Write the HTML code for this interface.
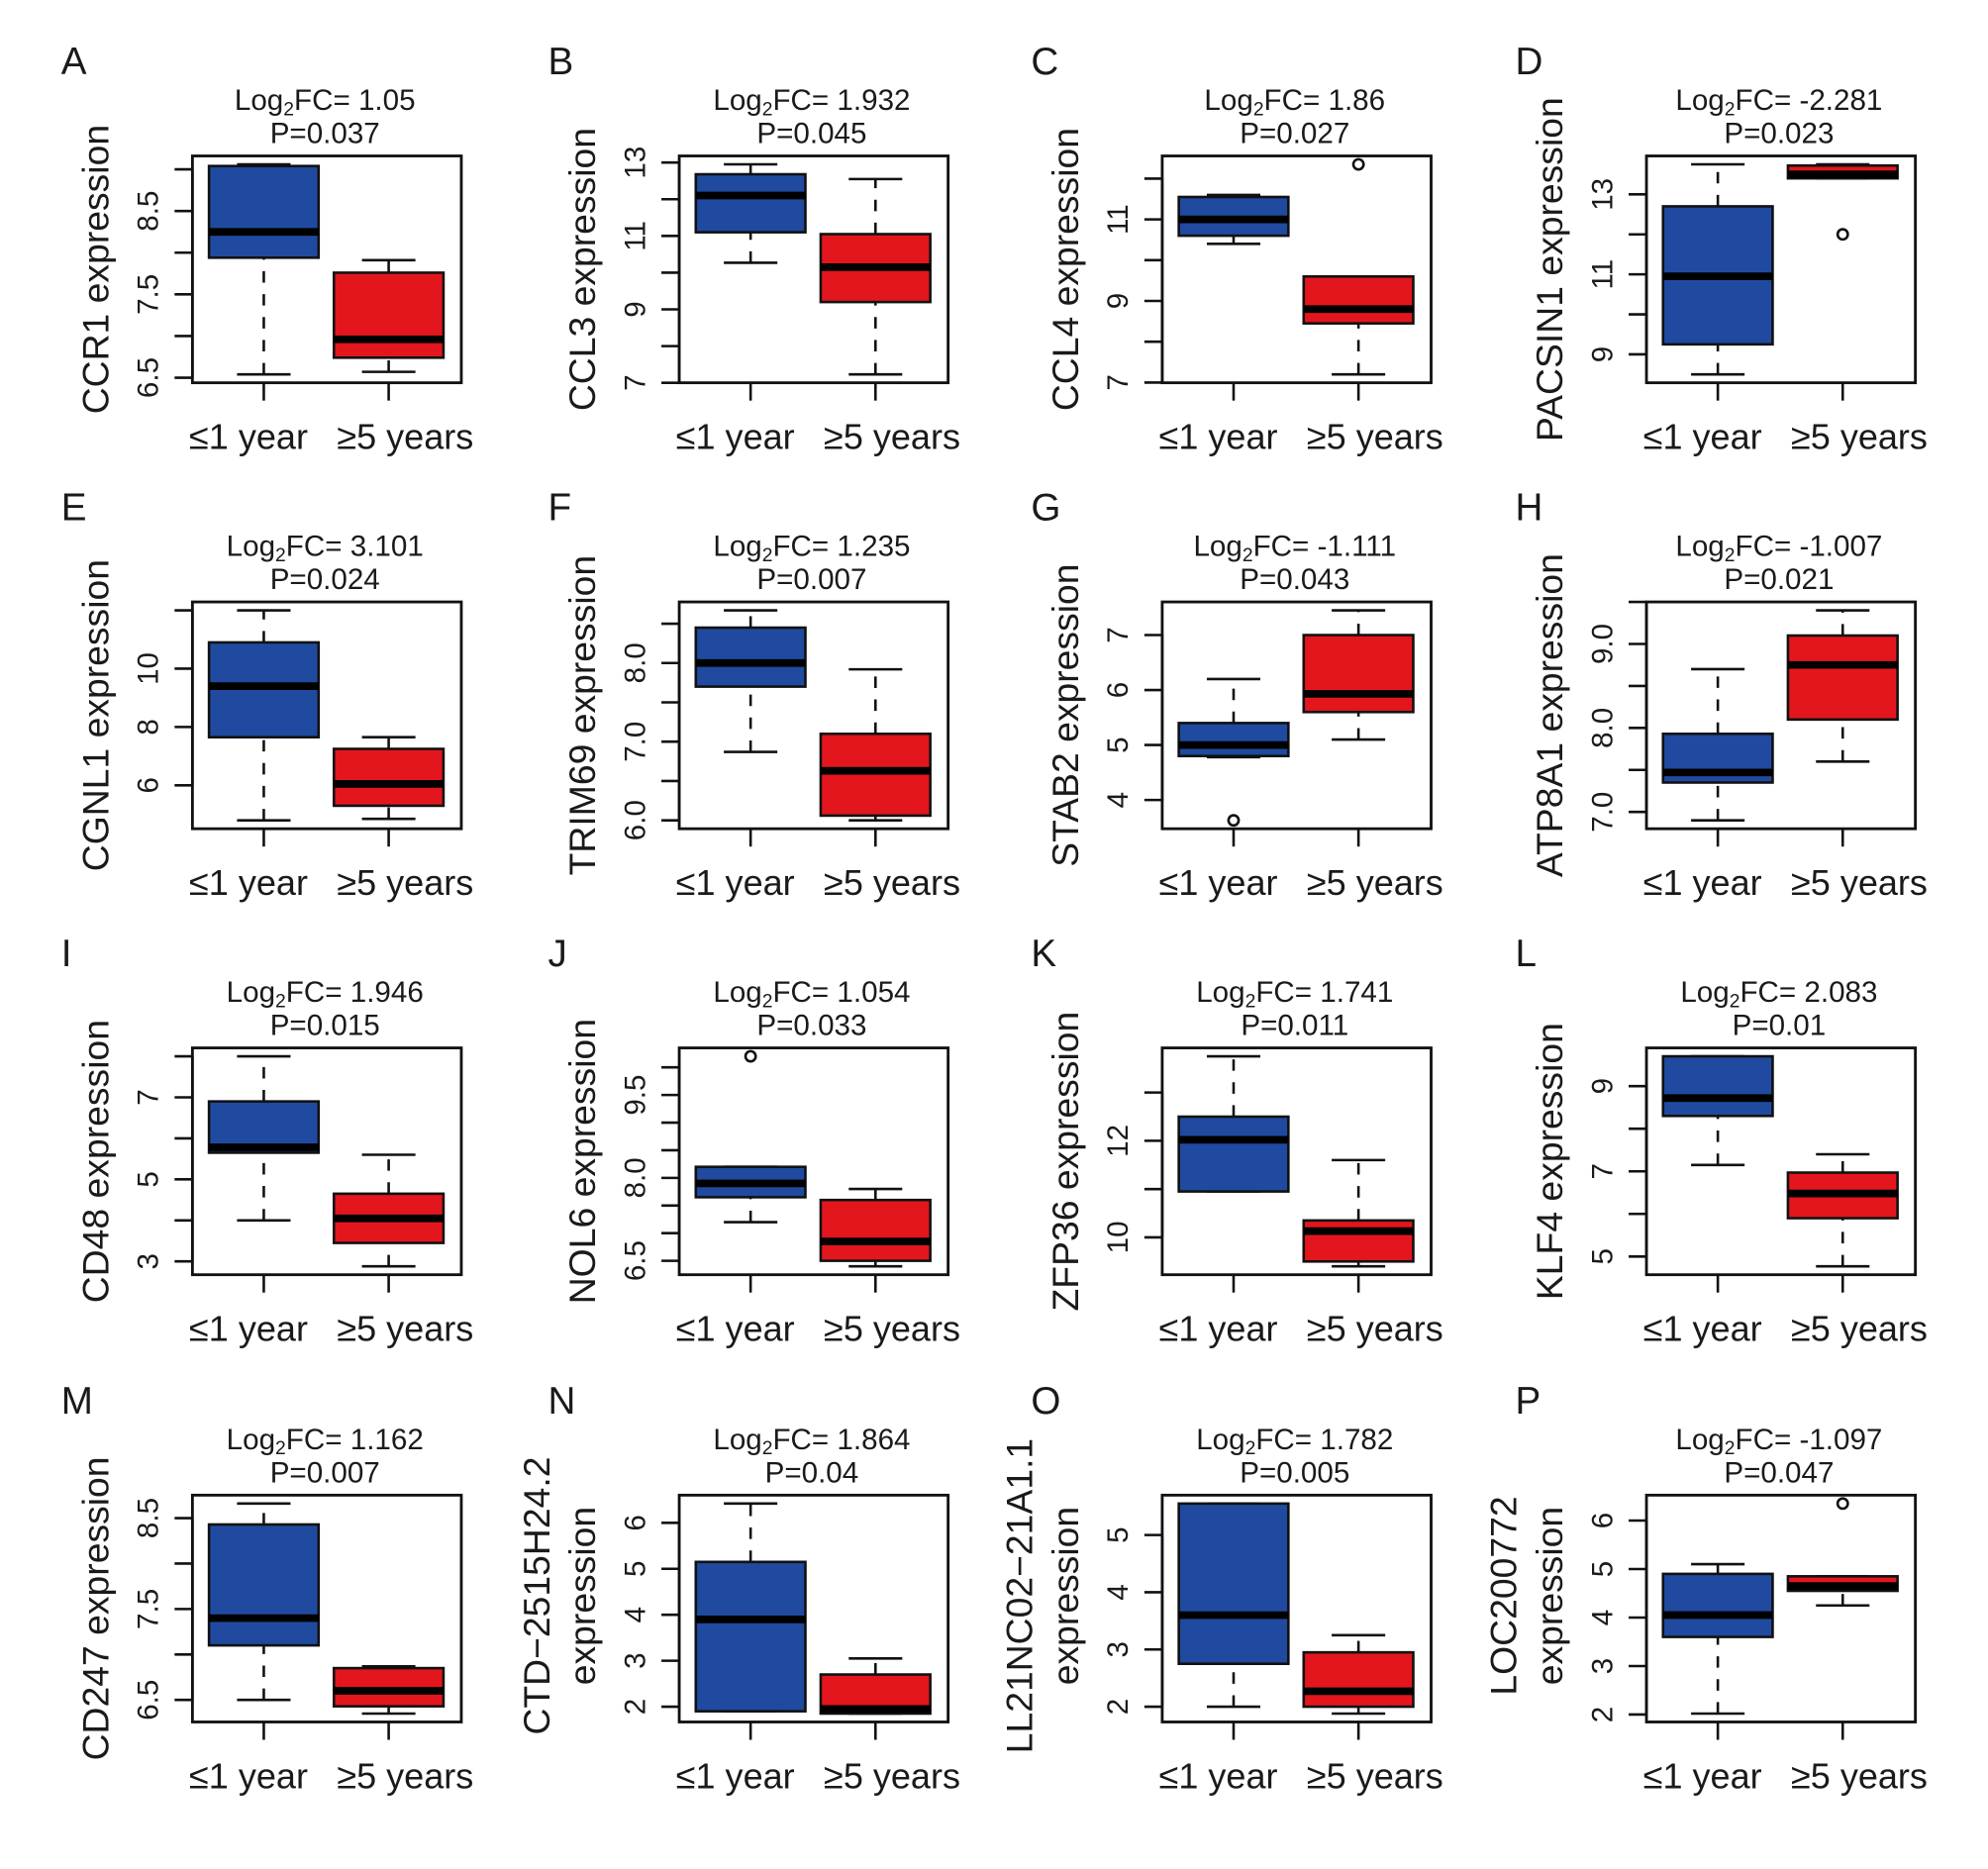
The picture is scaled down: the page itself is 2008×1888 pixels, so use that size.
<!DOCTYPE html>
<html><head><meta charset="utf-8"><style>
html,body{margin:0;padding:0;background:#fff;}
svg{display:block;}
text{font-family:"Liberation Sans Narrow","Liberation Sans",sans-serif;fill:#1a1a1a;}
</style></head><body>
<svg id="fig" width="2008" height="1888" viewBox="0 0 1560 1466" xmlns="http://www.w3.org/2000/svg"></svg>
<script>
// Panel data: [whiskerLow, q1, median, q3, whiskerHigh]
const letters = ["A","B","C","D","E","F","G","H","I","J","K","L","M","N","O","P"];
const genes = [["CCR1 expression"],["CCL3 expression"],["CCL4 expression"],["PACSIN1 expression"],
 ["CGNL1 expression"],["TRIM69 expression"],["STAB2 expression"],["ATP8A1 expression"],
 ["CD48 expression"],["NOL6 expression"],["ZFP36 expression"],["KLF4 expression"],
 ["CD247 expression"],["CTD\u22122515H24.2","expression"],["LL21NC02\u221221A1.1","expression"],["LOC200772","expression"]];
const log2fc = ["1.05","1.932","1.86","-2.281","3.101","1.235","-1.111","-1.007","1.946","1.054","1.741","2.083","1.162","1.864","1.782","-1.097"];
const pvals = ["0.037","0.045","0.027","0.023","0.024","0.007","0.043","0.021","0.015","0.033","0.011","0.01","0.007","0.04","0.005","0.047"];
const shortStats = [
 [6.54,7.94,8.25,9.04,9.06],[6.57,6.74,6.96,7.76,7.91],
 [10.27,11.1,12.1,12.68,12.95],[7.23,9.2,10.15,11.05,12.55],
 [10.4,10.6,11.0,11.55,11.6],[7.2,8.45,8.8,9.6,9.6],
 [8.5,9.25,10.95,12.7,13.75],[13.4,13.4,13.5,13.72,13.75],
 [4.8,7.65,9.4,10.9,12.0],[4.85,5.3,6.05,7.25,7.65],
 [6.87,7.7,8.0,8.45,8.67],[6.0,6.06,6.63,7.1,7.92],
 [4.78,4.8,5.0,5.4,6.2],[5.1,5.6,5.93,7.0,7.45],
 [6.9,7.35,7.47,7.93,8.7],[7.6,8.1,8.75,9.1,9.4],
 [4.0,5.65,5.78,6.9,8.0],[2.88,3.45,4.05,4.65,5.6],
 [7.2,7.65,7.9,8.2,8.2],[6.4,6.5,6.85,7.6,7.8],
 [10.95,10.95,12.02,12.5,13.75],[9.4,9.5,10.13,10.35,11.6],
 [7.15,8.3,8.72,9.7,9.7],[4.77,5.9,6.48,6.97,7.4],
 [6.5,7.1,7.4,8.43,8.66],[6.35,6.43,6.6,6.85,6.87],
 [1.9,1.9,3.9,5.15,6.42],[1.85,1.85,1.95,2.7,3.05],
 [2.0,2.75,3.6,5.55,5.55],[1.88,2.0,2.27,2.95,3.25],
 [2.02,3.6,4.05,4.9,5.1],[4.25,4.55,4.65,4.85,4.85]
];
const outShort = [[],[],[],[],[],[],[3.63],[],[],[10.2],[],[],[],[],[],[]];
const outLong  = [[],[],[12.35],[12.0],[],[],[],[],[],[],[],[],[],[],[],[6.35]];
const yTicks = [[6.5,7,7.5,8,8.5,9],[7,8,9,10,11,12,13],[7,8,9,10,11,12],[9,10,11,12,13],
 [6,8,10,12],[6,6.5,7,7.5,8,8.5],[4,5,6,7],[7,7.5,8,8.5,9,9.5],
 [3,4,5,6,7,8],[6.5,7,7.5,8,8.5,9,9.5,10],[10,11,12,13],[5,6,7,8,9],
 [6.5,7,7.5,8,8.5],[2,3,4,5,6],[2,3,4,5],[2,3,4,5,6]];
const yLabels = [["6.5","7.5","8.5"],["7","9","11","13"],["7","9","11"],["9","11","13"],
 ["6","8","10"],["6.0","7.0","8.0"],["4","5","6","7"],["7.0","8.0","9.0"],
 ["3","5","7"],["6.5","8.0","9.5"],["10","12"],["5","7","9"],
 ["6.5","7.5","8.5"],["2","3","4","5","6"],["2","3","4","5"],["2","3","4","5","6"]];
const groups = ["\u22641 year","\u22655 years"];

const NS="http://www.w3.org/2000/svg";
const svg=document.getElementById('fig');
function mk(tag,attrs,parent){const e=document.createElementNS(NS,tag);for(const k in attrs)e.setAttribute(k,attrs[k]);(parent||svg).appendChild(e);return e;}
const colX=[151,533,912,1292], rowY=[122,472,822,1173], W=211, H=178;
const fills=["#1f4a9f","#e3161d"];

for(let p=0;p<16;p++){
  const x0=colX[p%4], y0=rowY[Math.floor(p/4)];
  const g=mk('g',{});
  
  
  const s=shortStats[p*2], l=shortStats[p*2+1];
  const all=[...s,...l,...outShort[p],...outLong[p]];
  let lo=Math.min(...all), hi=Math.max(...all); const ext=(hi-lo)*0.04; lo-=ext; hi+=ext;
  const ys=v=>y0+H-(v-lo)/(hi-lo)*H;
  const cx=[x0+56,x0+154];
  const lt=mk('text',{x:x0-103,y:y0-64,'font-size':30},g); lt.textContent=letters[p];
   
  const t1=mk('text',{x:x0+104,y:y0-36,'font-size':23,'text-anchor':'middle'},g);
   
  t1.appendChild(document.createTextNode('Log'));
  const sub=mk('tspan',{'font-size':15,dy:4},t1); sub.textContent='2';
  const rest=mk('tspan',{dy:-4},t1); rest.textContent='FC= '+log2fc[p];
  const t2=mk('text',{x:x0+104,y:y0-10,'font-size':23,'text-anchor':'middle'},g); t2.textContent='P='+pvals[p];
   
  const gl=genes[p];
  if(gl.length===1){
    const yt=mk('text',{transform:`translate(${x0-66},${y0+H/2}) rotate(-90)`,'font-size':29,'text-anchor':'middle'},g); yt.textContent=gl[0];
     
  } else {
    const yt=mk('text',{transform:`translate(${x0-102},${y0+H/2-10}) rotate(-90)`,'font-size':29,'text-anchor':'middle'},g); yt.textContent=gl[0];
     
    const yt2=mk('text',{transform:`translate(${x0-66},${y0+H/2-10}) rotate(-90)`,'font-size':29,'text-anchor':'middle'},g); yt2.textContent=gl[1];
     
  }
  const tk=yTicks[p];
  mk('line',{x1:x0,x2:x0,y1:ys(tk[0]),y2:ys(tk[tk.length-1]),stroke:'#111','stroke-width':2},g);
  tk.forEach(v=>{const ln=mk('line',{x1:x0-14,x2:x0,y1:ys(v),y2:ys(v),stroke:'#111','stroke-width':2},g);
     });
  yLabels[p].forEach(lab=>{const v=parseFloat(lab);
    const tl=mk('text',{transform:`translate(${x0-27},${ys(v)}) rotate(-90)`,'font-size':23,'text-anchor':'middle'},g); tl.textContent=lab;
     });
  [s,l].forEach((st,i)=>{
    const c=cx[i], bw=86, cap=21;
    const wl=mk('line',{x1:c,x2:c,y1:ys(st[3]),y2:ys(st[4]),stroke:'#111','stroke-width':2,'stroke-dasharray':'9,9'},g);
     
    const wl2=mk('line',{x1:c,x2:c,y1:ys(st[0]),y2:ys(st[1]),stroke:'#111','stroke-width':2,'stroke-dasharray':'9,9'},g);
     
    mk('line',{x1:c-cap,x2:c+cap,y1:ys(st[4]),y2:ys(st[4]),stroke:'#111','stroke-width':2},g);
    mk('line',{x1:c-cap,x2:c+cap,y1:ys(st[0]),y2:ys(st[0]),stroke:'#111','stroke-width':2},g);
    const r=mk('rect',{x:c-bw/2,y:ys(st[3]),width:bw,height:Math.max(1,ys(st[1])-ys(st[3])),fill:fills[i],stroke:'#111','stroke-width':2},g);
     
    const md=mk('line',{x1:c-bw/2,x2:c+bw/2,y1:ys(st[2]),y2:ys(st[2]),stroke:'#000','stroke-width':6},g);
     
    (i===0?outShort[p]:outLong[p]).forEach(v=>{const o=mk('circle',{cx:c,cy:ys(v),r:4,fill:'none',stroke:'#111','stroke-width':2},g);
       });
    mk('line',{x1:c,x2:c,y1:y0+H,y2:y0+H+14,stroke:'#111','stroke-width':2},g);
    const xl=mk('text',{x:c-12+i*25,y:y0+H+52,'font-size':28,'text-anchor':'middle'},g); xl.textContent=groups[i];
     
  });
  const fr=mk('rect',{x:x0,y:y0,width:W,height:H,fill:'none',stroke:'#111','stroke-width':2.2},g);
   
}
</script>
</body></html>
